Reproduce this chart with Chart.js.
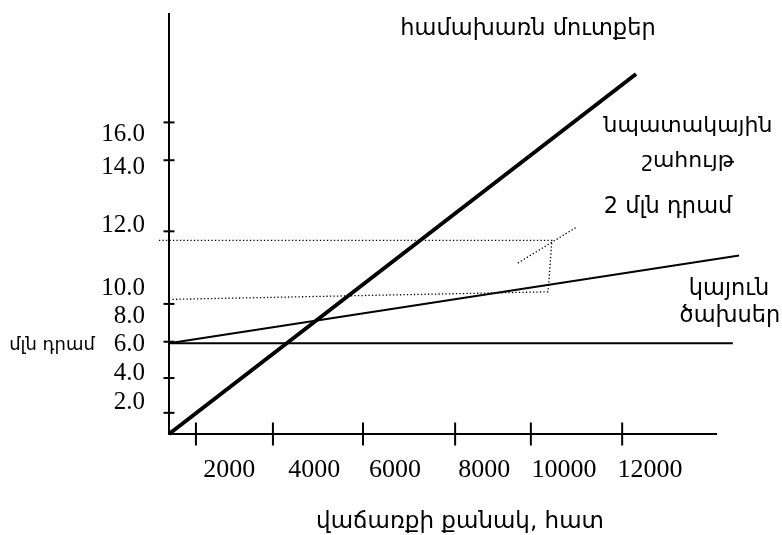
<!DOCTYPE html>
<html><head><meta charset="utf-8">
<script src="https://cdn.jsdelivr.net/npm/chart.js@4"></script>
<style>html,body{margin:0;padding:0;background:#fff}#wrap{width:782px;height:535px}</style>
</head><body><div id="wrap"><canvas id="c" width="782" height="535"></canvas></div>
<script>
// Axis ticks (chart units: x = pieces sold, y = mln dram)
const xTickLabels = ['2000', '4000', '6000', '8000', '10000', '12000'];
const xTickLabelAt = [1430, 3450, 5370, 7490, 9390, 11430];
const xTickMarks = [640, 2470, 4610, 6800, 8600, 10770];
const yTickLabels = ['2.0', '4.0', '6.0', '8.0', '10.0', '12.0', '14.0', '16.0'];
const yTickLabelAt = [2.1, 4.0, 5.9, 7.8, 9.6, 13.8, 17.6, 19.8];
const yTickMarks = [1.4, 3.7, 6.1, 8.6, 13.4, 18.1, 20.6];

// Series
const revenueX = [0, 11100];
const revenueY = [0, 23.8];
const fixedX = [0, 13400];
const fixedY = [6.0, 6.0];
const totalX = [0, 13550];
const totalY = [6.0, 11.8];
// dotted guide showing the 2 mln dram target profit
const guideX = [-240, 9100, 9010, 50];
const guideY = [12.8, 12.8, 9.4, 8.9];
const pointerX = [8290, 9700];
const pointerY = [11.3, 13.7];

// Texts
const titleX = 'վաճառքի քանակ, հատ';
const titleY = 'մլն դրամ';
const labelRevenue = 'համախառն մուտքեր';
const labelProfit = ['նպատակային', 'շահույթ'];
const labelGap = '2 մլն դրամ';
const labelFixed = ['կայուն', 'ծախսեր'];

const pts = (xs, ys) => xs.map((x, i) => ({x: x, y: ys[i]}));

const ARM = '"DejaVu Sans", sans-serif';
const notes = [
  {t: labelRevenue, x: 528, y: 35, s: 22.5},
  {t: labelProfit[0], x: 688, y: 132, s: 22},
  {t: labelProfit[1], x: 688, y: 167, s: 22},
  {t: labelGap, x: 668, y: 213, s: 22.5},
  {t: labelFixed[0], x: 729, y: 295, s: 22.5},
  {t: labelFixed[1], x: 730, y: 322, s: 22.5},
  {t: titleY, x: 52, y: 350, s: 18},
  {t: titleX, x: 460, y: 528, s: 23}
];

const notesPlugin = {
  id: 'notes',
  afterDraw(chart) {
    const ctx = chart.ctx;
    ctx.save();
    ctx.fillStyle = '#000';
    ctx.textAlign = 'center';
    ctx.textBaseline = 'alphabetic';
    notes.forEach(n => {
      ctx.font = n.s + 'px ' + ARM;
      ctx.fillText(n.t, n.x, n.y);
    });
    ctx.restore();
  }
};

const lineDs = (xs, ys, w, dash) => ({
  data: pts(xs, ys), showLine: true, borderColor: '#000', borderWidth: w,
  borderDash: dash || [], pointRadius: 0, fill: false, clip: false, tension: 0
});

const noPad = s => { s.paddingTop = 0; s.paddingBottom = 0; s.paddingLeft = 0; s.paddingRight = 0; };

new Chart(document.getElementById('c'), {
  type: 'scatter',
  data: {
    datasets: [
      lineDs(revenueX, revenueY, 4),
      lineDs(fixedX, fixedY, 1.8),
      lineDs(totalX, totalY, 1.8),
      lineDs(guideX, guideY, 1.3, [1.3, 2.2]),
      lineDs(pointerX, pointerY, 1.3, [1.3, 2.2]),
      {
        data: xTickMarks.map(v => ({x: v, y: 0})), showLine: false,
        pointStyle: 'line', rotation: 90, pointRadius: 11.5,
        borderColor: '#000', pointBorderWidth: 2, borderWidth: 2, clip: false
      },
      {
        data: yTickMarks.map(v => ({x: 0, y: v})), showLine: false,
        pointStyle: 'line', rotation: 0, pointRadius: 5.5,
        borderColor: '#000', pointBorderWidth: 2, borderWidth: 2, clip: false
      }
    ]
  },
  options: {
    responsive: false,
    animation: false,
    events: [],
    layout: {padding: {left: 0, right: 66, top: 8, bottom: 0}},
    plugins: {legend: {display: false}, tooltip: {enabled: false}},
    scales: {
      x: {
        type: 'linear', min: 0, max: 13000,
        grid: {display: false},
        border: {display: true, color: '#000', width: 2},
        afterFit: s => { s.height = 101; noPad(s); },
        afterBuildTicks: s => { s.ticks = xTickLabelAt.map(v => ({value: v})); },
        ticks: {
          autoSkip: false, maxRotation: 0, padding: 13, color: '#000',
          font: {family: '"Liberation Serif", serif', size: 26},
          callback: (v, i) => xTickLabels[i]
        }
      },
      y: {
        type: 'linear', min: 0, max: 27.8,
        grid: {display: false},
        border: {display: true, color: '#000', width: 2},
        afterFit: s => { s.width = 169; noPad(s); },
        afterBuildTicks: s => { s.ticks = yTickLabelAt.map(v => ({value: v})); },
        ticks: {
          autoSkip: false, padding: 16, color: '#000',
          font: {family: '"Liberation Serif", serif', size: 25},
          callback: (v, i) => yTickLabels[i]
        }
      }
    }
  },
  plugins: [notesPlugin]
});
</script></body></html>
